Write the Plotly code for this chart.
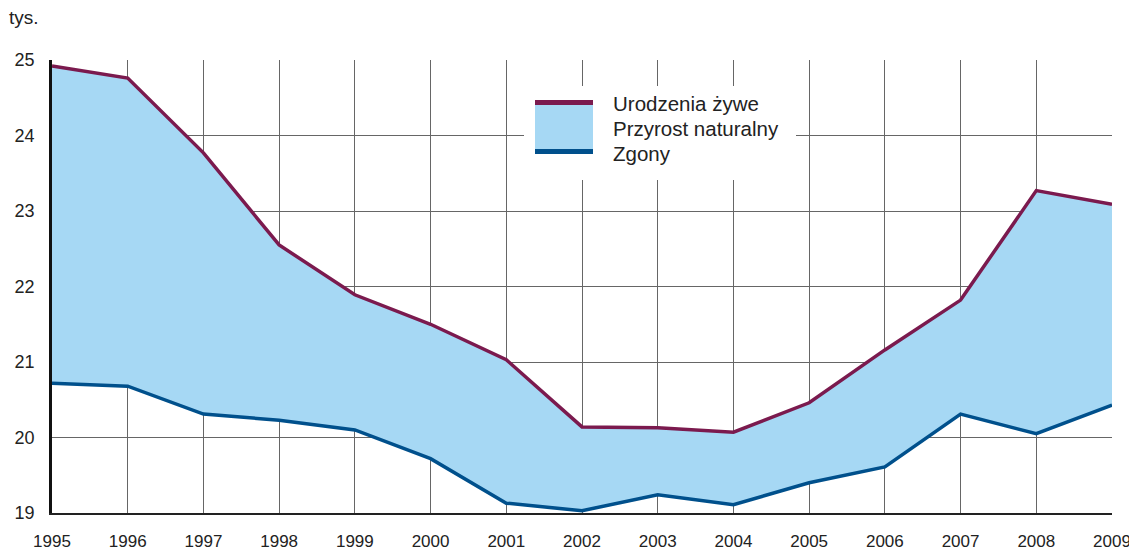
import plotly.graph_objects as go

years = list(range(1995, 2010))
urodzenia = [24.92, 24.76, 23.77, 22.55, 21.89, 21.50, 21.03, 20.14, 20.13, 20.07, 20.46, 21.16, 21.82, 23.27, 23.09]
zgony = [20.72, 20.68, 20.31, 20.23, 20.10, 19.72, 19.13, 19.03, 19.24, 19.11, 19.40, 19.61, 20.31, 20.05, 20.43]
y_ticks = [19, 20, 21, 22, 23, 24, 25]
legend_labels = ["Urodzenia żywe", "Przyrost naturalny", "Zgony"]

C_BIRTH = "#7b1a4e"
C_DEATH = "#00508c"
C_FILL = "#a6d8f4"
FONT = "Liberation Sans, Arial, sans-serif"

fig = go.Figure()
fig.add_trace(go.Scatter(x=years, y=zgony, mode="lines",
                         line=dict(color=C_DEATH, width=3.5), showlegend=False))
fig.add_trace(go.Scatter(x=years, y=urodzenia, mode="lines", fill="tonexty",
                         fillcolor=C_FILL, line=dict(color=C_BIRTH, width=3.5),
                         showlegend=False))

OFF = 8  # page body margin
W, H = 1137 - OFF, 551 - OFF
L, R, T, B = 52 - OFF, 25, 60 - OFF, 38
pw, ph = W - L - R, H - T - B

def px(x):
    return (x - OFF - L) / pw

def py(y):
    return (H - B - (y - OFF)) / ph

shapes = [
    dict(type="rect", xref="paper", yref="paper", x0=px(524), x1=px(796), y0=py(180), y1=py(86),
         fillcolor="white", line=dict(width=0), layer="above"),
    dict(type="rect", xref="paper", yref="paper", x0=px(535), x1=px(593), y0=py(154), y1=py(100),
         fillcolor=C_FILL, line=dict(width=0), layer="above"),
    dict(type="rect", xref="paper", yref="paper", x0=px(535), x1=px(593), y0=py(105), y1=py(100),
         fillcolor=C_BIRTH, line=dict(width=0), layer="above"),
    dict(type="rect", xref="paper", yref="paper", x0=px(535), x1=px(593), y0=py(154), y1=py(149),
         fillcolor=C_DEATH, line=dict(width=0), layer="above"),
]
annotations = [
    dict(text="tys.", xref="paper", yref="paper", x=px(7), y=py(18), xanchor="left", yanchor="middle",
         showarrow=False, font=dict(family=FONT, size=19, color="#222")),
]
for i, lab in enumerate(legend_labels):
    annotations.append(dict(text=lab, xref="paper", yref="paper", x=px(611), y=py(103 + 25.5 * i),
                            xanchor="left", yanchor="middle", showarrow=False,
                            font=dict(family=FONT, size=20.5, color="#222")))

fig.update_layout(
    width=W, height=H,
    margin=dict(l=L, r=R, t=T, b=B, pad=0, autoexpand=False),
    paper_bgcolor="white", plot_bgcolor="white",
    shapes=shapes, annotations=annotations,
    xaxis=dict(range=[1995, 2009], tickmode="array", tickvals=years, ticktext=[str(y) for y in years],
               showgrid=True, gridcolor="#666", gridwidth=1, showline=True, linecolor="#222", linewidth=1.5,
               ticks="", ticklabelstandoff=12, zeroline=False, automargin=False,
               tickfont=dict(family=FONT, size=17, color="#222")),
    yaxis=dict(range=[19, 25], tickmode="array", tickvals=y_ticks,
               showgrid=True, gridcolor="#666", gridwidth=1, showline=True, linecolor="#111", linewidth=2.5,
               ticks="", ticklabelstandoff=11, zeroline=False, automargin=False,
               tickfont=dict(family=FONT, size=18, color="#222")),
)

fig.write_html("out.html")
